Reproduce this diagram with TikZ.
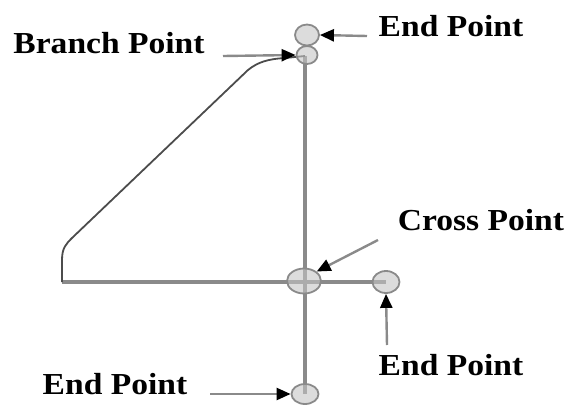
\documentclass[tikz,border=0pt]{standalone}
\usepackage{fontspec}
\setmainfont{Liberation Serif}[FakeStretch=1.1]
\usetikzlibrary{arrows.meta, shapes.geometric, backgrounds}
\definecolor{linegray}{HTML}{8A8A8A}
\definecolor{dotgray}{HTML}{C4C4C4}

\begin{document}
\begin{tikzpicture}[
      x=1pt, y=-1pt,
      dot/.style={ellipse, draw=linegray, fill=dotgray, fill opacity=0.6,
                  line width=1.8pt, inner sep=0pt},
      label/.style={font=\fontsize{30.5}{34}\selectfont\bfseries, inner sep=0pt},
      wire/.style={draw=linegray, line width=3.4pt},
      pointer/.style={-{Triangle[length=14pt, width=12pt, black]}, draw=linegray, line width=2.4pt}
    ]
    \useasboundingbox (0,0) rectangle (566,405);

    % points on the skeleton
    \node[dot, minimum width=24pt, minimum height=21pt] (endtop) at (307,35) {};
    \node[dot, minimum width=21pt, minimum height=18pt] (branch) at (307,55) {};
    \node[dot, minimum width=34pt, minimum height=25pt] (cross) at (304,281) {};
    \node[dot, minimum width=27pt, minimum height=22pt] (endright) at (386,282) {};
    \node[dot, minimum width=27pt, minimum height=20pt] (endbottom) at (305,394) {};
    \coordinate (top) at (305,56);
    \coordinate (corner) at (62,282);

    % skeleton lines, behind the points
    \begin{scope}[on background layer]
    \draw[wire] (top) -- (305,282) -- (endbottom.center);
    \draw[wire] (corner) -- (endright.center);
    \draw[draw=black!70, line width=1.8pt, line join=round]
      (corner) -- (62,260) .. controls (62,248) and (66,244) .. (72,238)
      -- (248,70) .. controls (258,62) and (268,59) .. (285,58) -- (top);
    \end{scope}

    % labels
    \node[label] (lbranch) at (109,43) {Branch Point};
    \node[label] (lendtop) at (451,26) {End Point};
    \node[label] (lcross) at (481,220) {Cross Point};
    \node[label] (lendright) at (451,365) {End Point};
    \node[label] (lendbottom) at (115,384) {End Point};

    \coordinate (fbranch) at (223,56);
    \coordinate (fendtop) at (367,36);
    \coordinate (fcross) at (378,240);
    \coordinate (fendright) at (387,345);
    \coordinate (fendbottom) at (210,394);

    \draw[pointer] (fbranch) -- (branch.west);
    \draw[pointer] (fendtop) -- (endtop.east);
    \draw[pointer] (fcross) -- (cross.north east);
    \draw[pointer] (fendright) -- (endright.south);
    \draw[pointer] (fendbottom) -- (endbottom.west);
  \end{tikzpicture}
\end{document}
